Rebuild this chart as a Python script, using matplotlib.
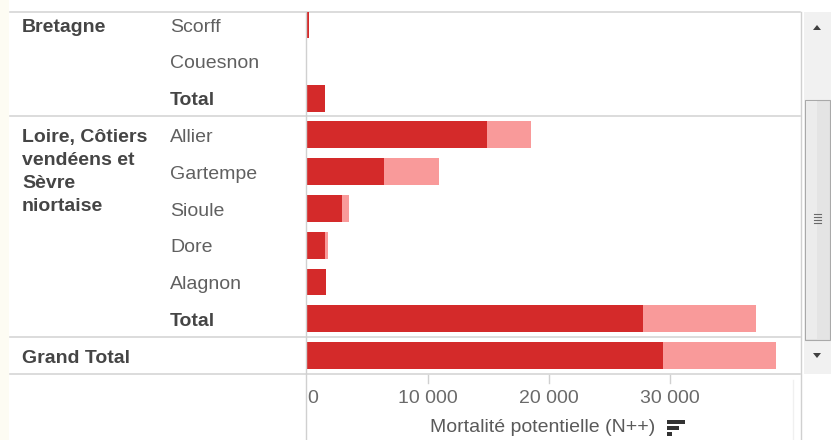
import matplotlib.pyplot as plt
from matplotlib import transforms
from matplotlib.lines import Line2D
from matplotlib.patches import Rectangle, Polygon

# rows of the table, top to bottom
rivers = ['Scorff', 'Couesnon', 'Total', 'Allier', 'Gartempe', 'Sioule',
          'Dore', 'Alagnon', 'Total', '']
bold_rows = [2, 8, 9]
regions = ['Bretagne', 'Loire, Côtiers\nvendéens et\nSèvre\nniortaise', 'Grand Total']
region_first_row = [0, 3, 9]

# mortalité potentielle: lower estimate (dark) and upper estimate (light)
mort_low = [200, 0, 1500, 14900, 6350, 2900, 1500, 1550, 27800, 29400]
mort_high = [200, 0, 1500, 18500, 10900, 3470, 1750, 1600, 37100, 38800]

ticks = [0, 10000, 20000, 30000]
tick_labels = ['0', '10 000', '20 000', '30 000']

W, H = 831, 440
dark = '#d42a2a'
light = '#f99a9a'
grid = '#d6d6d6'
plt.rcParams['font.family'] = ['Liberation Sans', 'DejaVu Sans']
fs = 14
dy = 0.07  # nudges text down onto the row centre


def fx(px):
    return px / W


def fy(py):
    return 1 - py / H


fig = plt.figure(figsize=(W / 100, H / 100), dpi=100)
fig.patch.set_facecolor('white')
fig.add_artist(Rectangle((0, 0), fx(9), 1, transform=fig.transFigure,
                         color='#fdfcf3', lw=0))

ax = fig.add_axes([fx(307), fy(374), fx(800 - 307), (374 - 12) / H])
rows = list(range(len(rivers)))
ax.barh(rows, mort_high, height=0.73, color=light, lw=0, zorder=3)
ax.barh(rows, mort_low, height=0.73, color=dark, lw=0, zorder=3)
ax.set_xlim(0, (800 - 307) * 30000 / (670 - 307))
ax.set_ylim(9.5, -0.34)
ax.axis('off')

# labels of the row headers
lab = transforms.blended_transform_factory(fig.transFigure, ax.transData)
for r, name in enumerate(rivers):
    ax.text(fx(170), r + dy, name, transform=lab, va='center', ha='left', fontsize=fs,
            color='#454545' if r in bold_rows else '#606060',
            fontweight='bold' if r in bold_rows else 'normal')
for name, r in zip(regions, region_first_row):
    for k, line in enumerate(name.split('\n')):
        ax.text(fx(22), r + dy + k * 0.625, line, transform=lab, va='center',
                ha='left', fontsize=fs, color='#454545', fontweight='bold')

# horizontal separators between regions
for y in [-0.34, 2.5, 8.5, 9.5]:
    ax.add_line(Line2D([fx(10), fx(800)], [y, y], transform=lab, color=grid,
                       lw=1.2, clip_on=False))

# zero line and right border
fig.add_artist(Line2D([fx(306)] * 2, [fy(12), 0], color='#d0d0d0', lw=1))
fig.add_artist(Line2D([fx(801)] * 2, [fy(12), 0], color='#d0d0d0', lw=1))
fig.add_artist(Line2D([fx(793)] * 2, [fy(380), 0], color='#f0f0f0', lw=1))

# x axis below the table
tk = transforms.blended_transform_factory(ax.transData, fig.transFigure)
for t, s in zip(ticks, tick_labels):
    if t > 0:
        ax.add_line(Line2D([t, t], [fy(375), fy(383)], transform=tk,
                           color='#d0d0d0', lw=1, clip_on=False))
    ax.text(t, fy(398), s, transform=tk, ha='left' if t == 0 else 'center',
            va='center', fontsize=fs, color='#6a6a6a')
ax.text(fx(543), fy(427), 'Mortalité potentielle (N++)', transform=fig.transFigure,
        ha='center', va='center', fontsize=fs, color='#5a5a5a')

# sort icon next to the axis title
for i, w in enumerate([18, 12, 5]):
    fig.add_artist(Rectangle((fx(667), fy(420 + i * 6 + 4)), fx(w), 4 / H,
                             transform=fig.transFigure, color='#333333', lw=0))

# scrollbar
fig.add_artist(Rectangle((fx(804), fy(374)), fx(27), (374 - 12) / H,
                         transform=fig.transFigure, color='#f1f1f1', lw=0))
fig.add_artist(Rectangle((fx(805), fy(340)), fx(25), (340 - 100) / H,
                         transform=fig.transFigure, facecolor='#e4e4e4',
                         edgecolor='#a9a9a9', lw=0.8))
fig.add_artist(Rectangle((fx(806), fy(339)), fx(11), (339 - 101) / H,
                         transform=fig.transFigure, color='#ececec', lw=0))
for gy in [214, 217, 220, 223]:
    fig.add_artist(Line2D([fx(814), fx(821)], [fy(gy)] * 2, color='#6a6a6a', lw=0.8))
fig.add_artist(Polygon([(fx(813), fy(30)), (fx(821), fy(30)), (fx(817), fy(25))],
                       closed=True, transform=fig.transFigure, color='#404040', lw=0))
fig.add_artist(Polygon([(fx(813), fy(353)), (fx(821), fy(353)), (fx(817), fy(358))],
                       closed=True, transform=fig.transFigure, color='#404040', lw=0))

fig.savefig('out.png', dpi=100, facecolor='white')
